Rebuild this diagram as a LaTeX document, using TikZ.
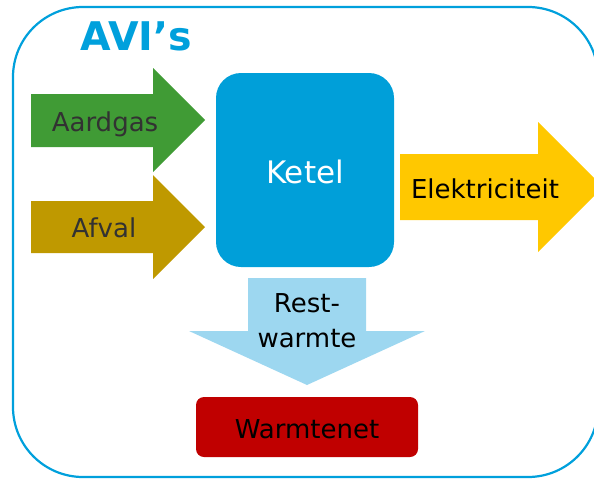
\documentclass[tikz,border=0pt]{standalone}
\usepackage{fontspec}
\setmainfont{DejaVu Sans}
\definecolor{avblue}{RGB}{0,160,220}
\definecolor{ketelblue}{RGB}{0,159,217}
\definecolor{gasgreen}{RGB}{64,155,53}
\definecolor{afvalgold}{RGB}{191,153,0}
\definecolor{elekyellow}{RGB}{255,200,0}
\definecolor{restblue}{RGB}{157,215,240}
\definecolor{netred}{RGB}{192,0,0}
\definecolor{txtgrey}{RGB}{50,50,50}
\begin{document}
\begin{tikzpicture}[x=1pt,y=-1pt,
  lbl/.style={font=\fontsize{26}{32}\selectfont, inner sep=0pt, anchor=base}]
\useasboundingbox (0,0) rectangle (594,479);
\clip (0,0) rectangle (594,479);
% outer frame
\draw[avblue, line width=2.2pt, rounded corners=70pt] (13,7) rectangle (598,477);
% title
\node[font=\fontsize{39.5}{42}\selectfont\bfseries, text=avblue, inner sep=0pt, anchor=base] (title) at (136,50) {AVI’s};
% block arrows
\fill[gasgreen] (31,94) -- (153,94) -- (153,68) -- (205,120) -- (153,172) -- (153,147) -- (31,147) -- cycle;
\fill[afvalgold] (31,201) -- (153,201) -- (153,175) -- (205,227) -- (153,279) -- (153,253) -- (31,253) -- cycle;
\fill[elekyellow] (400,154) -- (538,154) -- (538,122) -- (603,187) -- (538,252) -- (538,220) -- (400,220) -- cycle;
\fill[restblue] (248,278) -- (366,278) -- (366,331) -- (425,331) -- (307,385) -- (189,331) -- (248,331) -- cycle;
% boxes
\node[fill=ketelblue, rounded corners=25pt, minimum width=178pt, minimum height=194pt, inner sep=0pt] (ketel) at (305,170) {};
\node[fill=netred, rounded corners=8pt, minimum width=222pt, minimum height=60pt, inner sep=0pt] (net) at (307,427) {};
% labels
\node[lbl, text=white, font=\fontsize{31}{36}\selectfont] (ketellbl) at (305,183) {Ketel};
\node[lbl, text=txtgrey] (gas) at (105,131) {Aardgas};
\node[lbl, text=txtgrey] (afval) at (104,237) {Afval};
\node[lbl, text=black] (elek) at (485,198) {Elektriciteit};
\node[lbl, text=black] (rest1) at (307,312) {Rest-};
\node[lbl, text=black] (rest2) at (307,347) {warmte};
\node[lbl, text=black] (netlbl) at (307,438) {Warmtenet};
\end{tikzpicture}
\end{document}
